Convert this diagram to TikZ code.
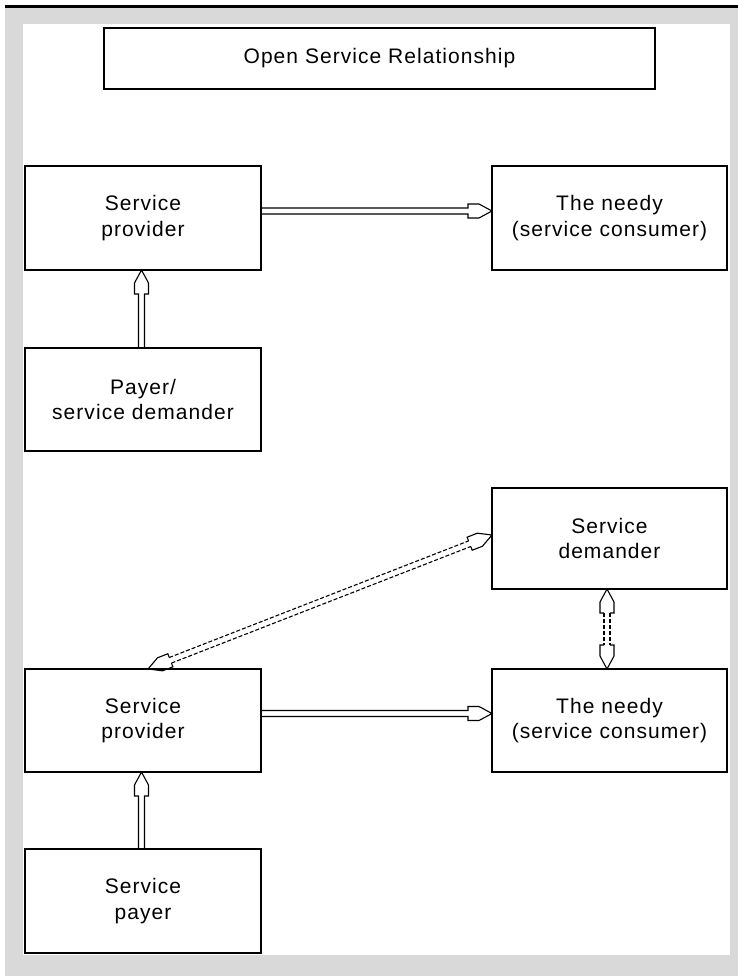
\documentclass[tikz,border=0pt]{standalone}
\usepackage{fontspec}
\newfontfamily\diagfont{Liberation Sans}[LetterSpace=5]
\usetikzlibrary{calc}
\definecolor{framegray}{HTML}{D9D9D9}

% geometry of the hollow block arrows
\newcommand\arShaft{3pt}  % half width of the shaft
\newcommand\arHalf{7pt}   % half width of the head
\newcommand\arHead{24pt}  % full length of the head
\newcommand\arFlat{11pt}  % straight part of the head before it tapers

\tikzset{
  box/.style={draw=black, line width=1.6pt, inner sep=0pt, outer sep=0pt,
    align=center, text=black, font=\diagfont\fontsize{21}{25.5}\selectfont},
  lbox/.style={box, minimum width=236pt},
  rbox/.style={box, minimum width=235pt},
  % single-headed hollow arrow, drawn as one outline
  fat arrow/.style={draw=black, line width=1.1pt, line join=miter,
    to path={
      ($(\tikztotarget)!\arHead!(\tikztostart)$) coordinate (fa-h)
      ($(fa-h)!\arFlat!(\tikztotarget)$) coordinate (fa-f)
      ($(\tikztostart)!\arShaft!90:(\tikztotarget)$)
      -- ($(fa-h)!\arShaft!90:(\tikztotarget)$)
      -- ($(fa-h)!\arHalf!90:(\tikztotarget)$)
      -- ($(fa-f)!\arHalf!90:(\tikztotarget)$)
      -- (\tikztotarget)
      -- ($(fa-f)!\arHalf!-90:(\tikztotarget)$)
      -- ($(fa-h)!\arHalf!-90:(\tikztotarget)$)
      -- ($(fa-h)!\arShaft!-90:(\tikztotarget)$)
      -- ($(\tikztostart)!\arShaft!-90:(\tikztotarget)$)
      -- cycle
    }},
  % the two solid heads of a double-headed hollow arrow
  twin heads/.style={draw=black, line width=1.1pt, line join=miter,
    to path={
      ($(\tikztostart)!\arHead!(\tikztotarget)$) coordinate (fb-h1)
      ($(fb-h1)!\arFlat!(\tikztostart)$) coordinate (fb-f1)
      ($(\tikztotarget)!\arHead!(\tikztostart)$) coordinate (fb-h2)
      ($(fb-h2)!\arFlat!(\tikztotarget)$) coordinate (fb-f2)
      ($(fb-h1)!\arShaft!90:(\tikztostart)$)
      -- ($(fb-h1)!\arHalf!90:(\tikztostart)$)
      -- ($(fb-f1)!\arHalf!90:(\tikztostart)$)
      -- (\tikztostart)
      -- ($(fb-f1)!\arHalf!-90:(\tikztostart)$)
      -- ($(fb-h1)!\arHalf!-90:(\tikztostart)$)
      -- ($(fb-h1)!\arShaft!-90:(\tikztostart)$)
      ($(fb-h2)!\arShaft!90:(\tikztotarget)$)
      -- ($(fb-h2)!\arHalf!90:(\tikztotarget)$)
      -- ($(fb-f2)!\arHalf!90:(\tikztotarget)$)
      -- (\tikztotarget)
      -- ($(fb-f2)!\arHalf!-90:(\tikztotarget)$)
      -- ($(fb-h2)!\arHalf!-90:(\tikztotarget)$)
      -- ($(fb-h2)!\arShaft!-90:(\tikztotarget)$)
    }},
  % the dashed double shaft between those heads
  twin shaft/.style={draw=black, line width=1.1pt, dash pattern=on 4pt off 2pt,
    to path={
      ($(\tikztostart)!\arHead!(\tikztotarget)$) coordinate (fc-h1)
      ($(\tikztotarget)!\arHead!(\tikztostart)$) coordinate (fc-h2)
      ($(fc-h1)!\arShaft!90:(\tikztotarget)$)
      -- ($(fc-h2)!\arShaft!-90:(\tikztostart)$)
      ($(fc-h1)!\arShaft!-90:(\tikztotarget)$)
      -- ($(fc-h2)!\arShaft!90:(\tikztostart)$)
    }},
}

\begin{document}
\begin{tikzpicture}[x=1pt, y=-1pt]
  \useasboundingbox (0,0) rectangle (738,976);
  % window frame
  \fill[white] (0,0) rectangle (738,976);
  \fill[framegray] (5,8) rectangle (738,976);
  \fill[black] (5,5.5) rectangle (738,8.5);
  \fill[white] (23,24) rectangle (730,955);

  % boxes
  \node[box, minimum width=551pt, minimum height=61pt] (title) at (379.5,58.5)
    {Open Service Relationship};

  \node[lbox, minimum height=104pt] (sp1) at (143,218) {Service\\provider};
  \node[rbox, minimum height=104pt] (n1) at (609.5,218) {The needy\\(service consumer)};
  \node[lbox, minimum height=103pt] (p1) at (143,399.5) {Payer/\\service demander};

  \node[rbox, minimum height=101pt] (dm) at (609.5,538.5) {Service\\demander};
  \node[lbox, minimum height=103pt] (sp2) at (143,720.5) {Service\\provider};
  \node[rbox, minimum height=103pt] (n2) at (609.5,720.5) {The needy\\(service consumer)};
  \node[lbox, minimum height=104pt] (p2) at (143,901) {Service\\payer};

  % connector end points on the box borders
  \coordinate (a1s) at ([yshift=7pt]sp1.east);
  \coordinate (a1e) at ([yshift=7pt]n1.west);
  \coordinate (a2s) at ([xshift=-1.5pt]p1.north);
  \coordinate (a2e) at ([xshift=-1.5pt]sp1.south);
  \coordinate (a3s) at ([yshift=7pt]sp2.east);
  \coordinate (a3e) at ([yshift=7pt]n2.west);
  \coordinate (a4s) at ([xshift=-1.5pt]p2.north);
  \coordinate (a4e) at ([xshift=-1.5pt]sp2.south);
  \coordinate (a5s) at ([xshift=5pt]sp2.north);
  \coordinate (a5e) at ([yshift=3.5pt]dm.west);
  \coordinate (a6s) at ([xshift=-2.5pt]dm.south);
  \coordinate (a6e) at ([xshift=-2.5pt]n2.north);

  % solid hollow arrows
  \draw[fat arrow] (a1s) to (a1e);
  \draw[fat arrow] (a2s) to (a2e);
  \draw[fat arrow] (a3s) to (a3e);
  \draw[fat arrow] (a4s) to (a4e);

  % dashed double-headed arrows
  \draw[twin shaft] (a5s) to (a5e);
  \draw[twin heads] (a5s) to (a5e);
  \draw[twin shaft] (a6s) to (a6e);
  \draw[twin heads] (a6s) to (a6e);
\end{tikzpicture}
\end{document}
